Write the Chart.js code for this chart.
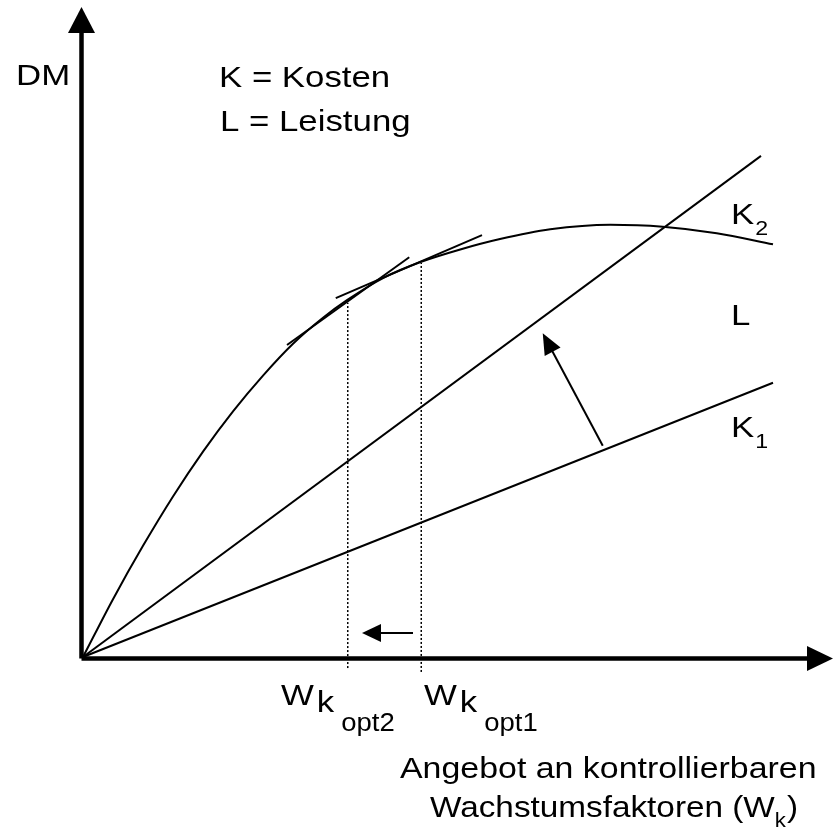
<!DOCTYPE html>
<html>
<head>
<meta charset="utf-8">
<script src="https://cdn.jsdelivr.net/npm/chart.js@4"></script>
<style>
  html, body { margin: 0; padding: 0; background: #fff; }
  #wrap { width: 839px; height: 830px; }
</style>
</head>
<body>
<div id="wrap"><canvas id="diagramm"></canvas></div>
<script>
// Werte (x und y jeweils 0..100)
const lX = [0, 4.0, 8.0, 12.0, 16.0, 20.0, 24.0, 28.0, 32.0, 35.2, 40.0, 45.1, 50.3, 55.6, 62.3, 70.3, 77.3, 84.5, 92.0];
const lY = [0, 8.9, 17.1, 24.7, 31.6, 37.8, 43.3, 48.2, 52.2, 54.9, 58.3, 60.8, 62.7, 64.3, 65.8, 66.5, 66.2, 65.2, 63.5];

const k1X = [0, 92.0];
const k1Y = [0, 42.2];
const k2X = [0, 90.4];
const k2Y = [0, 77.1];

// Tangenten an L
const tan1X = [27.2, 43.5];
const tan1Y = [48.0, 61.5];
const tan2X = [33.7, 53.2];
const tan2Y = [55.2, 64.9];

// W_k opt2 und W_k opt1
const optX = [35.3, 45.1];
const optTop = [54.5, 60.6];
const optBottom = [-1.7, -2.3];

// Pfeile (von, nach)
const shiftArrowX = [69.3, 61.3];
const shiftArrowY = [32.5, 49.8];
const optArrowX = [44.0, 37.2];
const optArrowY = [3.7, 3.7];

const toPoints = (xs, ys) => xs.map((x, i) => ({ x: x, y: ys[i] }));

const FONT = '"Liberation Sans", Arial, sans-serif';

function txt(ctx, s, x, y, size, stretch) {
  const sx = stretch || 1.16;
  ctx.save();
  ctx.font = size + 'px ' + FONT;
  ctx.translate(x, y);
  ctx.scale(sx, 1);
  ctx.fillText(s, 0, 0);
  const w = ctx.measureText(s).width * sx;
  ctx.restore();
  return w;
}

function arrowHead(ctx, x1, y1, x2, y2, len, half) {
  const a = Math.atan2(y2 - y1, x2 - x1);
  ctx.beginPath();
  ctx.moveTo(x2, y2);
  ctx.lineTo(x2 - len * Math.cos(a) + half * Math.sin(a), y2 - len * Math.sin(a) - half * Math.cos(a));
  ctx.lineTo(x2 - len * Math.cos(a) - half * Math.sin(a), y2 - len * Math.sin(a) + half * Math.cos(a));
  ctx.closePath();
  ctx.fill();
}

const extras = {
  id: 'extras',
  afterDatasetsDraw(chart) {
    const ctx = chart.ctx;
    const xs = chart.scales.x, ys = chart.scales.y;
    const px = v => xs.getPixelForValue(v);
    const py = v => ys.getPixelForValue(v);
    ctx.save();
    ctx.fillStyle = '#000';
    ctx.strokeStyle = '#000';

    // Achsen
    const ox = px(0) - 1.5, oy = py(0) + 1.5;
    ctx.lineWidth = 4.5;
    ctx.beginPath();
    ctx.moveTo(ox, oy);
    ctx.lineTo(ox, chart.chartArea.top + 24);
    ctx.moveTo(ox, oy);
    ctx.lineTo(chart.chartArea.right - 24, oy);
    ctx.stroke();
    arrowHead(ctx, ox, oy, ox, chart.chartArea.top, 26, 13.5);
    arrowHead(ctx, ox, oy, chart.chartArea.right, oy, 26, 12.5);

    // Pfeile
    ctx.lineWidth = 2;
    let x1 = px(shiftArrowX[0]), y1 = py(shiftArrowY[0]), x2 = px(shiftArrowX[1]), y2 = py(shiftArrowY[1]);
    ctx.beginPath(); ctx.moveTo(x1, y1); ctx.lineTo(x2 + (x1 - x2) * 0.12, y2 + (y1 - y2) * 0.12); ctx.stroke();
    arrowHead(ctx, x1, y1, x2, y2, 21, 9);
    x1 = px(optArrowX[0]); y1 = py(optArrowY[0]); x2 = px(optArrowX[1]); y2 = py(optArrowY[1]);
    ctx.beginPath(); ctx.moveTo(x1, y1); ctx.lineTo(x2 + 12, y2); ctx.stroke();
    arrowHead(ctx, x1, y1, x2, y2, 19, 9);

    // Texte
    ctx.textBaseline = 'alphabetic';
    txt(ctx, 'DM', 16, 85, 30);
    txt(ctx, 'K = Kosten', 219, 87, 30);
    txt(ctx, 'L = Leistung', 220, 131, 30);

    let w = txt(ctx, 'K', 731, 224, 30);
    txt(ctx, '2', 731 + w + 1, 235, 20);
    txt(ctx, 'L', 731, 325, 30);
    w = txt(ctx, 'K', 731, 437, 30);
    txt(ctx, '1', 731 + w + 1, 448, 20);

    const optLabel = (x, sub) => {
      let ww = txt(ctx, 'W', x, 705, 30);
      ww += txt(ctx, 'k', x + ww + 3, 712, 30);
      txt(ctx, sub, x + ww + 10, 731, 25, 1.1);
    };
    optLabel(281, 'opt2');
    optLabel(424, 'opt1');

    txt(ctx, 'Angebot an kontrollierbaren', 400, 778, 30, 1.13);
    w = txt(ctx, 'Wachstumsfaktoren (W', 430, 817, 30, 1.11);
    const kw = txt(ctx, 'k', 430 + w, 827, 20, 1.11);
    txt(ctx, ')', 430 + w + kw + 1, 817, 30, 1.11);
    ctx.restore();
  }
};

const line = (data, extra) => Object.assign({
  data: data,
  showLine: true,
  borderColor: '#000',
  borderWidth: 2,
  pointRadius: 0,
  fill: false,
  clip: false
}, extra || {});

const datasets = [
  line(toPoints(lX, lY), { label: 'L', cubicInterpolationMode: 'monotone' }),
  line(toPoints(k1X, k1Y), { label: 'K1' }),
  line(toPoints(k2X, k2Y), { label: 'K2' }),
  line(toPoints(tan1X, tan1Y), { label: 'Tangente 1' }),
  line(toPoints(tan2X, tan2Y), { label: 'Tangente 2' }),
  line(toPoints([optX[0], optX[0]], [optBottom[0], optTop[0]]), { label: 'opt2', borderWidth: 1.5, borderDash: [2, 2] }),
  line(toPoints([optX[1], optX[1]], [optBottom[1], optTop[1]]), { label: 'opt1', borderWidth: 1.5, borderDash: [2, 2] })
];

const config = {
  type: 'scatter',
  data: { datasets },
  options: {
    responsive: true,
    maintainAspectRatio: false,
    animation: false,
    layout: { padding: { left: 83, right: 6, top: 7, bottom: 173 } },
    scales: {
      x: { type: 'linear', min: 0, max: 100, display: false },
      y: { type: 'linear', min: 0, max: 100, display: false }
    },
    plugins: { legend: { display: false }, tooltip: { enabled: false } }
  },
  plugins: [extras]
};

new Chart(document.getElementById('diagramm'), config);
</script>
</body>
</html>
